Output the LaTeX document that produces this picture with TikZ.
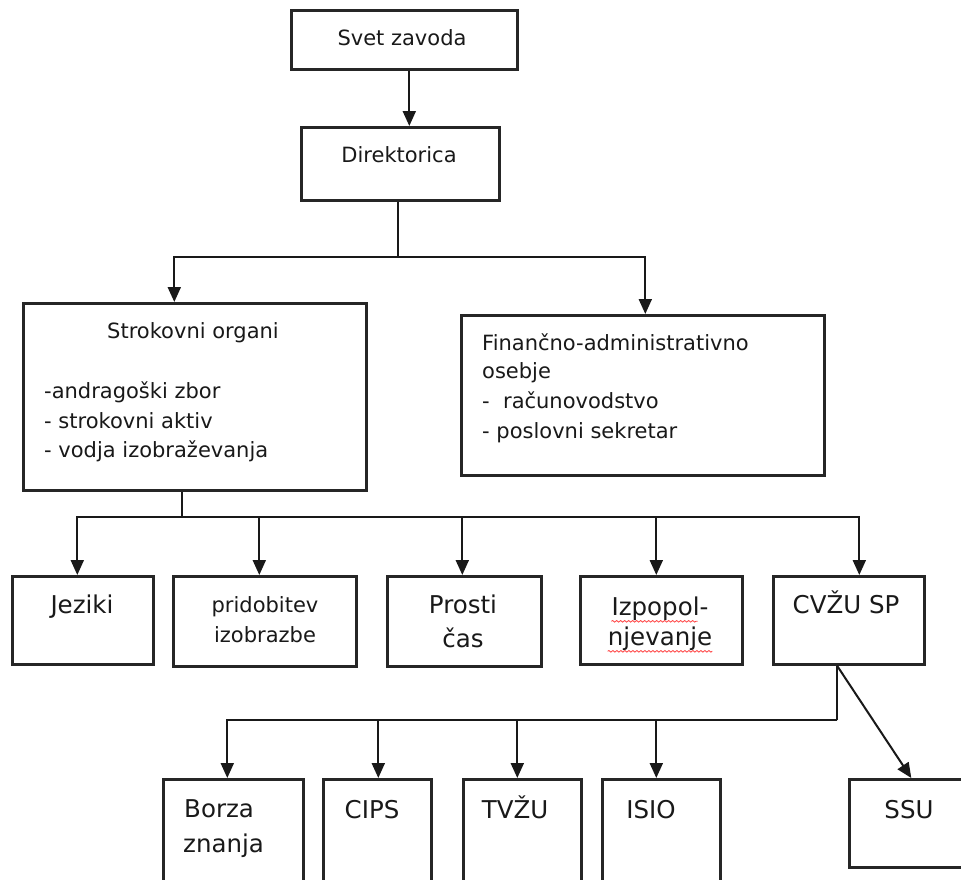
\documentclass[tikz,border=0pt]{standalone}
\usepackage{fontspec}
\setmainfont{DejaVu Sans}
\usetikzlibrary{arrows.meta,decorations.pathmorphing}
\begin{document}
\begin{tikzpicture}[x=1pt,y=-1pt,
  box/.style={draw=black!85, line width=2.6pt, fill=white, inner sep=0pt, anchor=north west},
  conn/.style={draw=black!90, line width=2pt},
  arr/.style={conn, -{Triangle[length=15pt,width=13pt]}},
  txt/.style={inner sep=0pt, anchor=base, text=black!90},
  ltxt/.style={inner sep=0pt, anchor=base west, text=black!90},
  fmid/.style={font=\fontsize{21}{25}\selectfont},
  fbig/.style={font=\fontsize{24.5}{29}\selectfont},
  squig/.style={draw=red!75, line width=0.8pt, decorate, decoration={snake, amplitude=0.8pt, segment length=4pt}}]
\useasboundingbox (0,0) rectangle (961,879);
\clip (0,0) rectangle (961,879);
\fill[white] (0,0) rectangle (961,879);
% boxes
\node[box, minimum width=226pt, minimum height=59pt] (sz) at (290,9) {};
\node[box, minimum width=198pt, minimum height=73pt] (dir) at (300,126) {};
\node[box, minimum width=343pt, minimum height=187pt] (so) at (22,302) {};
\node[box, minimum width=363pt, minimum height=160pt] (fin) at (460,314) {};
\node[box, minimum width=141pt, minimum height=88pt] (jez) at (11,575) {};
\node[box, minimum width=183pt, minimum height=90pt] (prid) at (172,575) {};
\node[box, minimum width=154pt, minimum height=90pt] (pros) at (386,575) {};
\node[box, minimum width=162pt, minimum height=88pt] (izp) at (579,575) {};
\node[box, minimum width=151pt, minimum height=88pt] (cvzu) at (772,575) {};
\node[box, minimum width=140pt, minimum height=130pt] (borza) at (162,778) {};
\node[box, minimum width=108pt, minimum height=130pt] (cips) at (322,778) {};
\node[box, minimum width=118pt, minimum height=130pt] (tvzu) at (462,778) {};
\node[box, minimum width=118pt, minimum height=130pt] (isio) at (601,778) {};
\node[box, minimum width=120pt, minimum height=88pt] (ssu) at (848,778) {};
% connectors
\draw[arr] ([xshift=5pt]sz.south) -- ([xshift=5pt]sz.south |- dir.north);
\coordinate (b1) at (398,257);
\draw[conn] (b1 |- dir.south) -- (b1);
\draw[arr] (b1) -| ([xshift=-20.5pt]so.north);
\draw[arr] (b1) -| ([xshift=2.5pt]fin.north);
\coordinate (b2) at (182,517);
\draw[conn] (b2 |- so.south) -- (b2);
\draw[arr] (b2) -| ([xshift=-5.5pt]jez.north);
\draw[arr] (b2) -| ([xshift=-5.5pt]prid.north);
\draw[arr] (b2) -| ([xshift=-2pt]pros.north);
\draw[arr] (b2) -| ([xshift=-5pt]izp.north);
\draw[arr] (b2) -| ([xshift=10.5pt]cvzu.north);
\coordinate (b3) at (837,720);
\draw[conn] (b3 |- cvzu.south) -- (b3);
\draw[arr] (b3) -| ([xshift=-6pt]borza.north);
\draw[arr] (b3) -| ([xshift=1pt]cips.north);
\draw[arr] (b3) -| ([xshift=-5pt]tvzu.north);
\draw[arr] (b3) -| ([xshift=-5pt]isio.north);
\draw[arr] (b3 |- cvzu.south) -- ([xshift=2pt]ssu.north);
% texts
\node[txt,fmid] (szt) at (402,45) {Svet zavoda};
\node[txt,fmid] (dirt) at (399,162) {Direktorica};
\node[txt,fmid] (sot) at (193,338) {Strokovni organi};
\node[ltxt,fmid] (so1) at (44,398) {-andragoški zbor};
\node[ltxt,fmid] (so2) at (44,428) {- strokovni aktiv};
\node[ltxt,fmid] (so3) at (44,457) {- vodja izobraževanja};
\node[ltxt,fmid] (fin1) at (482,350) {Finančno-administrativno};
\node[ltxt,fmid] (fin2) at (482,378) {osebje};
\node[ltxt,fmid] (fin3) at (482,408) {-~ računovodstvo};
\node[ltxt,fmid] (fin4) at (482,438) {- poslovni sekretar};
\node[txt,fbig] (jezt) at (82,613) {Jeziki};
\node[txt,fmid] (prid1) at (265,612) {pridobitev};
\node[txt,fmid] (prid2) at (265,642) {izobrazbe};
\node[txt,fbig] (pros1) at (463,613) {Prosti};
\node[txt,fbig] (pros2) at (463,647) {čas};
\node[txt,fbig] (izp1) at (660,615) {Izpopol-};
\node[txt,fbig] (izp2) at (660,645) {njevanje};
\node[txt,fbig] (cvzut) at (846,613) {CVŽU SP};
\node[ltxt,fbig] (borza1) at (184,817) {Borza};
\node[ltxt,fbig] (borza2) at (183,852) {znanja};
\node[txt,fbig] (cipst) at (372,818) {CIPS};
\node[txt,fbig] (tvzut) at (515,818) {TVŽU};
\node[txt,fbig] (isiot) at (651,818) {ISIO};
\node[txt,fbig] (ssut) at (909,818) {SSU};
% spell-check underlines
\draw[squig] ([yshift=-1pt]izp1.south west) -- ([xshift=-11pt,yshift=-1pt]izp1.south east);
\draw[squig] ([yshift=-1pt]izp2.south west) -- ([yshift=-1pt]izp2.south east);
\end{tikzpicture}
\end{document}
